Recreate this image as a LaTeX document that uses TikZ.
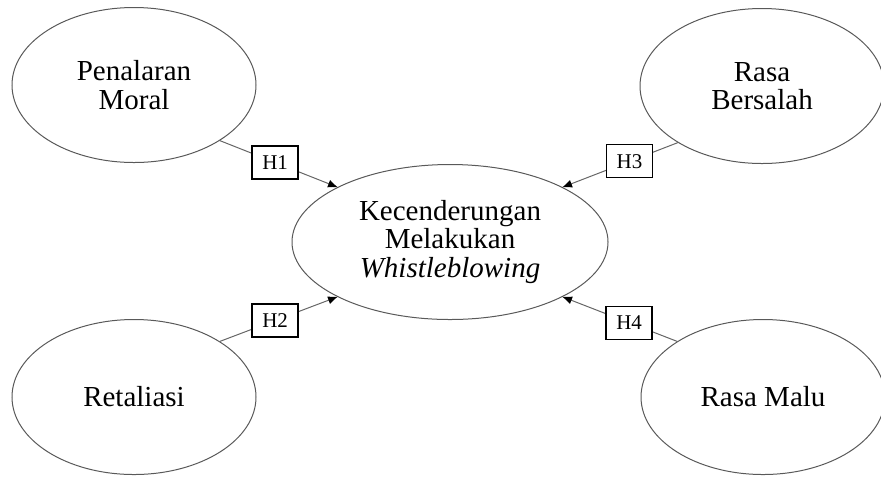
\documentclass[tikz,border=0pt]{standalone}
\usepackage{fontspec}
\setmainfont{Liberation Serif}
\usetikzlibrary{shapes.geometric,arrows.meta}

\begin{document}
\begin{tikzpicture}[x=0.5pt,y=-0.5pt]
	\tikzstyle{every node}=[inner sep=0pt, outer sep=0pt]
	\tikzstyle{var}=[ellipse, draw=black!65, line width=0.5pt, align=center,
		font=\fontsize{14.5}{14.3}\selectfont, minimum width=122pt, minimum height=77.5pt]
	\tikzstyle{hyp}=[rectangle, draw=black, line width=0.7pt, fill=white,
		font=\fontsize{10.5}{12}\selectfont, minimum width=23pt, minimum height=16.5pt]
	\tikzstyle{link}=[draw=black!60, line width=0.5pt, -{Latex[length=5pt,width=4pt,color=black]}]
	\useasboundingbox (0,0) rectangle (881,478);
	\node (pm) [var] at (134,85) {Penalaran\\Moral};
	\node (rb) [var] at (762,86) {Rasa\\Bersalah};
	\node (rt) [var] at (134,397) {Retaliasi};
	\node (rm) [var] at (763,397) {Rasa Malu};
	\node (kmw) [var, minimum width=158pt] at (450,242) {Kecenderungan\\Melakukan\\\textit{Whistleblowing}};
	\draw[link] (pm.-33) -- node[hyp, pos=.47] {H1} (kmw.154);
	\draw[link] (rt.33) -- node[hyp, pos=.47] {H2} (kmw.-154);
	\draw[link] (rb.-146) -- node[hyp, pos=.42] {H3} (kmw.26);
	\draw[link] (rm.147) -- node[hyp, pos=.42] {H4} (kmw.-26);
\end{tikzpicture}
\end{document}
